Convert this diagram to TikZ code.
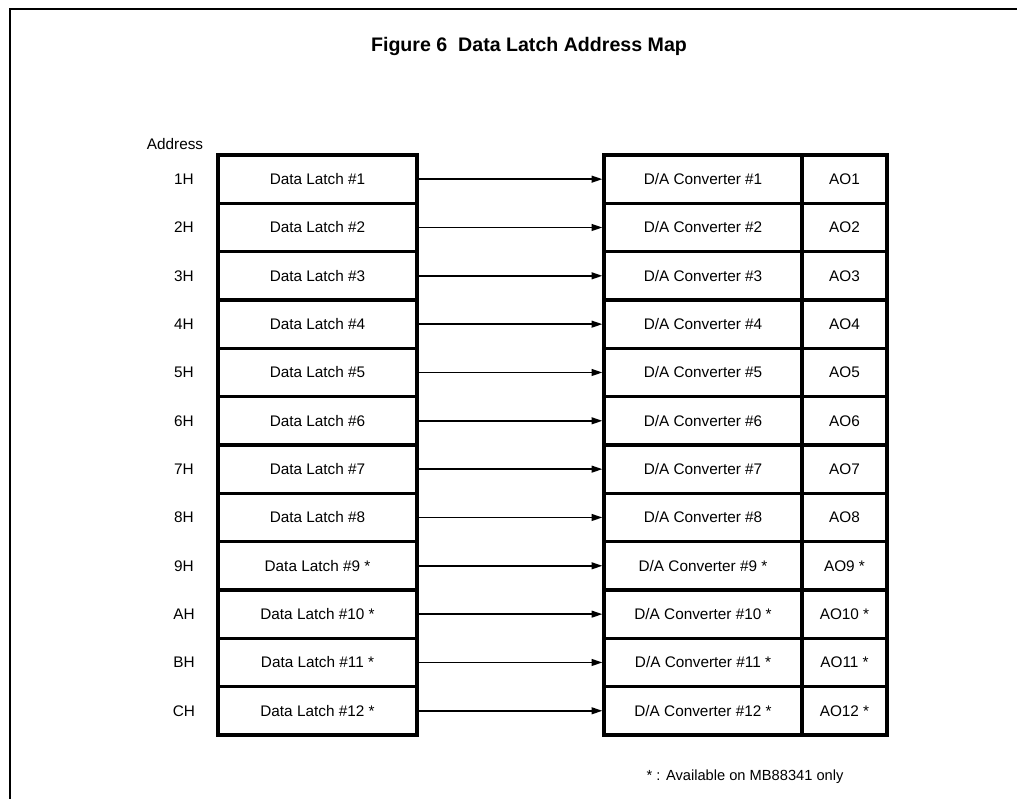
\documentclass[tikz,border=0pt]{standalone}
\usepackage{fontspec}
\setmainfont{Liberation Sans}
\usetikzlibrary{positioning,arrows.meta}

\begin{document}
\begin{tikzpicture}[
  x=0.75pt, y=-0.75pt,
  font=\fontsize{11.5}{13}\selectfont,
  >={Triangle[length=8pt,width=5pt]},
  cell/.style={draw=black, line width=2.4pt, inner sep=0pt, align=center,
               minimum height=36.25pt},
  latch/.style={cell, minimum width=149.25pt},
  dac/.style={cell, minimum width=148.5pt},
  aout/.style={cell, minimum width=63.75pt},
  arr/.style={->, draw=black, line width=1.3pt}
]
\useasboundingbox (0,0) rectangle (1017,799);
% ---------------- frame and title
\draw[line width=2.2pt] (1017,9) -- (10,9) -- (10,799);
\node[font=\fontsize{14.7}{17}\selectfont\bfseries] (title) at (529,46.5)
  {Figure 6\ \ Data Latch Address Map};
\node (addr) at (175,144) {Address};
% ---------------- rows
\foreach \i/\a/\s in {1/1H/{},2/2H/{},3/3H/{},4/4H/{},5/5H/{},6/6H/{},
                      7/7H/{},8/8H/{},9/9H/{ *},10/AH/{ *},11/BH/{ *},12/CH/{ *}} {
  \node (a\i) at (184,{155+48.33*(\i-0.5)}) {\a};
  \node[latch] (dl\i) at (317.5,{155+48.33*(\i-0.5)}) {Data Latch \#\i\s};
  \node[dac] (da\i) at (703,{155+48.33*(\i-0.5)}) {D/A Converter \#\i\s};
  \node[aout] (ao\i) at (844.5,{155+48.33*(\i-0.5)}) {AO\i\s};
  \draw[arr] (dl\i.east) -- (da\i.west);
}
% ---------------- note
\node[anchor=west, font=\fontsize{11}{13}\selectfont] (note) at (642,777)
  {* : Available on MB88341 only};
\end{tikzpicture}
\end{document}
